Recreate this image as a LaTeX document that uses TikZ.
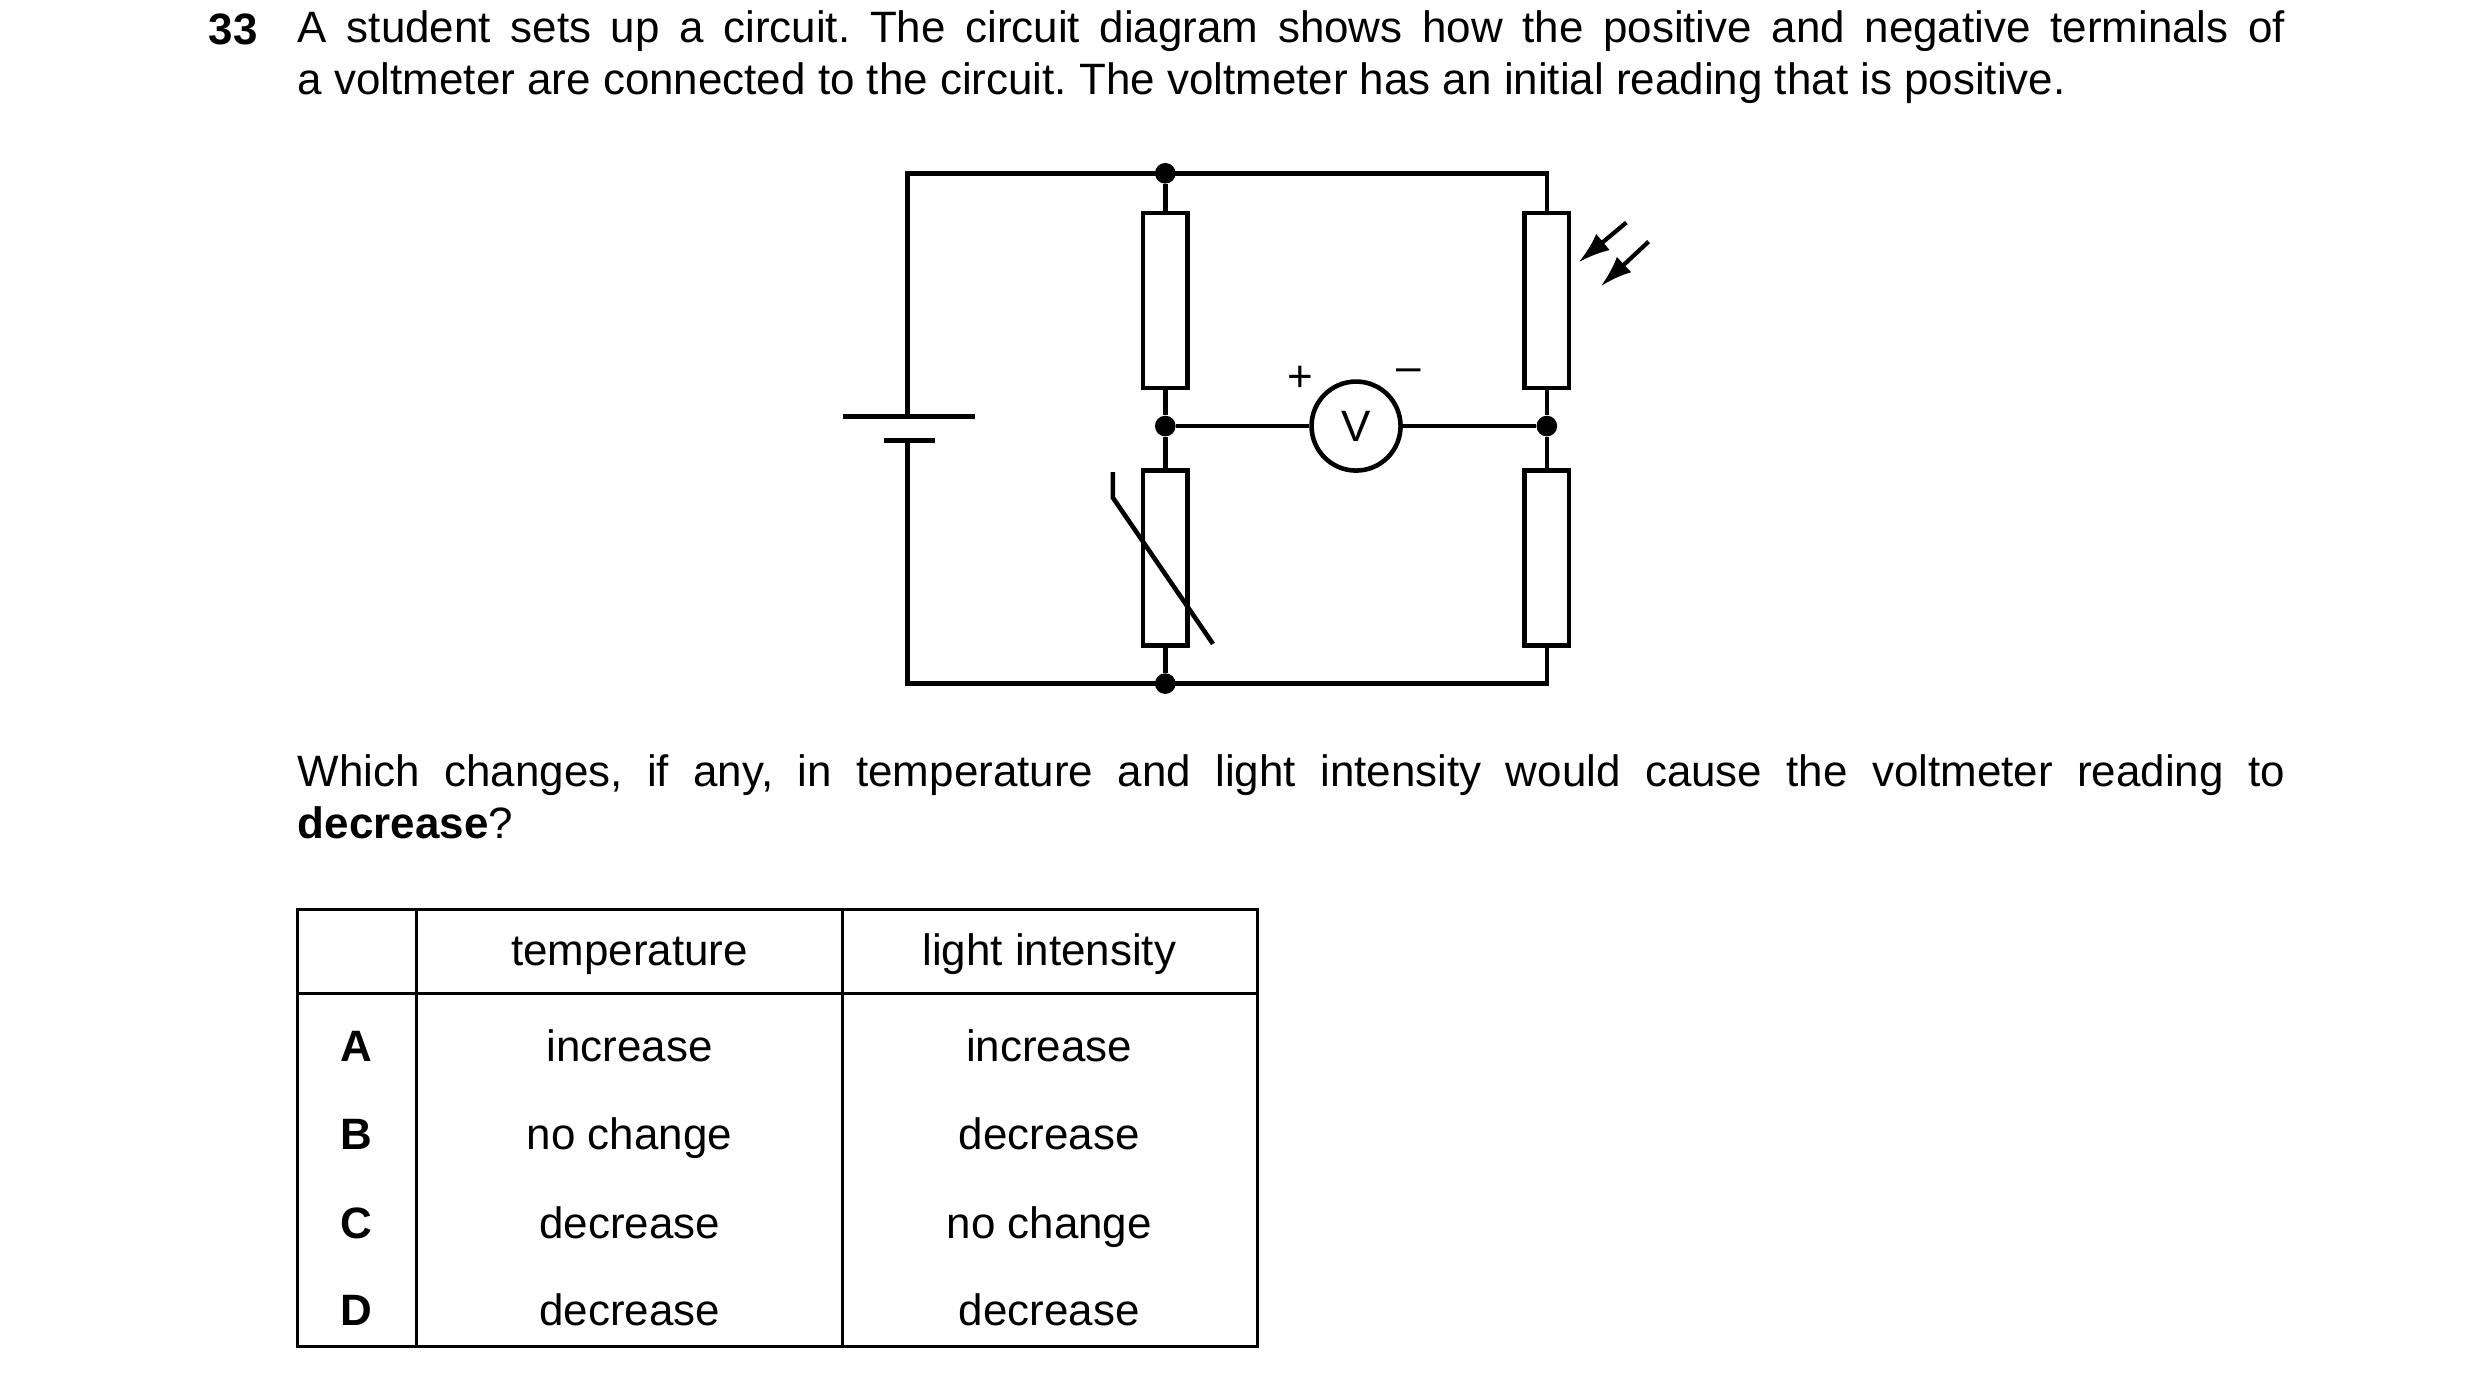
\documentclass[tikz,border=0pt]{standalone}
\usepackage{fontspec}
\setmainfont{Liberation Sans}
\usetikzlibrary{arrows.meta}
\frenchspacing
\begin{document}
\begin{tikzpicture}[x=0.0159cm,y=-0.0159cm,
  wire/.style={line width=1.3pt},
  res/.style={draw,line width=1.3pt,fill=white,minimum width=28*0.0159cm,minimum height=110*0.0159cm,inner sep=0pt},
  dot/.style={circle,fill=black,inner sep=0pt,minimum size=13*0.0159cm},
  txt/.style={font=\fontsize{12.5}{15}\selectfont,inner sep=0pt},
  cell/.style={txt,anchor=base}]
\useasboundingbox (0,0) rectangle (1560,868);
% question text
\node[txt,anchor=base west] (num) at (131,28) {\textbf{33}};
\node[txt,anchor=north west,text width=1250*0.0159cm,align=justify] (q1) at (187,6)
 {A student sets up a circuit. The circuit diagram shows how the positive and negative terminals of\linebreak a voltmeter are connected to the circuit. The voltmeter has an initial reading that is positive.};
\node[txt,anchor=north west,text width=1250*0.0159cm,align=justify] (q2) at (187,474)
 {Which changes, if any, in temperature and light intensity would cause the voltmeter reading to\linebreak \textbf{decrease}?};
% circuit nodes
\coordinate (tl) at (571,109); \coordinate (tr) at (973,109);
\coordinate (bl) at (571,430); \coordinate (br) at (973,430);
\coordinate (lp) at (571,262); \coordinate (sp) at (571,277);
\node[dot] (jt) at (733,109) {};
\node[dot] (jm) at (733,268) {};
\node[dot] (jb) at (733,430) {};
\node[dot] (jr) at (973,268) {};
\node[res] (r1) at (733,189) {};
\node[res] (th) at (733,351) {};
\node[res] (ldr) at (973,189) {};
\node[res] (r4) at (973,351) {};
\node[draw,circle,line width=1.3pt,minimum size=56*0.0159cm,inner sep=0pt,font=\fontsize{12.5}{15}\selectfont] (v) at (853,268) {V};
\draw[wire] (lp) -- (tl) -- (tr) -- (ldr.north);
\draw[wire] (sp) -- (bl) -- (br) -- (r4.south);
\draw[wire] (jt) -- (r1.north); \draw[wire] (r1.south) -- (jm) -- (th.north);
\draw[wire] (th.south) -- (jb);
\draw[wire] (ldr.south) -- (jr) -- (r4.north);
\draw[wire] (jm) -- (v) -- (jr);
\draw[wire] (530,262) -- (613,262);
\draw[wire] (556,277) -- (588,277);
\draw[line width=1.3pt] (700,297) -- (700,313) -- (763,405);
\draw[line width=1.2pt,-{Latex[length=9pt,width=6pt]}] (1023,140) -- (993,165);
\draw[line width=1.2pt,-{Latex[length=9pt,width=6pt]}] (1037,152) -- (1007,180);
\node[txt] (plus) at (818,238) {+};
\node[txt] (minus) at (886,236) {--};
% table
\draw[line width=1pt] (187,572) rectangle (791,847);
\draw[line width=1pt] (187,625) -- (791,625);
\draw[line width=1pt] (262,572) -- (262,847);
\draw[line width=1pt] (530,572) -- (530,847);
\node[cell] (h1) at (396,607) {temperature};
\node[cell] (h2) at (660,607) {light intensity};
\node[cell] (a) at (224,668) {\textbf{A}};
\node[cell] (b) at (224,723) {\textbf{B}};
\node[cell] (c) at (224,779) {\textbf{C}};
\node[cell] (d) at (224,834) {\textbf{D}};
\node[cell] (a1) at (396,668) {increase};
\node[cell] (b1) at (396,723) {no change};
\node[cell] (c1) at (396,779) {decrease};
\node[cell] (d1) at (396,834) {decrease};
\node[cell] (a2) at (660,668) {increase};
\node[cell] (b2) at (660,723) {decrease};
\node[cell] (c2) at (660,779) {no change};
\node[cell] (d2) at (660,834) {decrease};
\end{tikzpicture}
\end{document}
